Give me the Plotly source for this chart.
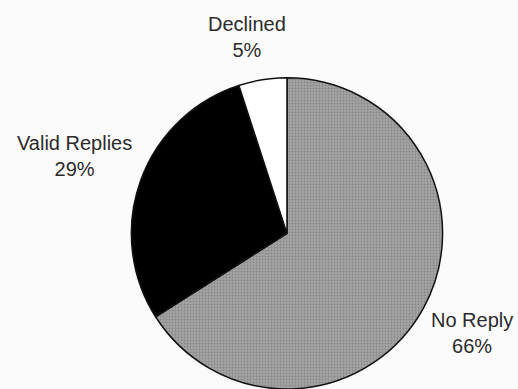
import plotly.graph_objects as go

# Survey response breakdown
labels = ["No Reply", "Valid Replies", "Declined"]
values = [66, 29, 5]
slice_colors = ["#a3a3a3", "#000000", "#ffffff"]
slice_patterns = [".", "", ""]

fig = go.Figure(
    go.Pie(
        labels=labels,
        values=values,
        sort=False,
        direction="clockwise",
        rotation=0,
        textinfo="none",
        hoverinfo="label+percent",
        marker=dict(
            colors=slice_colors,
            line=dict(color="#111111", width=1.5),
            pattern=dict(
                shape=slice_patterns,
                fgcolor="#6e6e6e",
                bgcolor=slice_colors,
                size=3,
                solidity=0.35,
                fillmode="overlay",
            ),
        ),
        domain=dict(x=[0.251, 0.857], y=[0.0, 0.80]),
        showlegend=False,
    )
)

# Category labels with their percentages, placed around the pie
label_pos = {
    "Declined": (247, 37),
    "Valid Replies": (74, 156),
    "No Reply": (472, 333),
}
total = sum(values)
for lab, val in zip(labels, values):
    px, py = label_pos[lab]
    fig.add_annotation(
        x=px / 518,
        y=1 - py / 389,
        xref="paper",
        yref="paper",
        text=f"{lab}<br>{round(100 * val / total)}%",
        showarrow=False,
        font=dict(family="Liberation Sans, Arial, sans-serif", size=20, color="#2b2b2b"),
        align="center",
        xanchor="center",
        yanchor="middle",
    )

fig.update_layout(
    width=518,
    height=389,
    autosize=False,
    margin=dict(l=0, r=0, t=0, b=0),
    paper_bgcolor="#fbfbfb",
    plot_bgcolor="#fbfbfb",
)

fig.write_html("out.html")
